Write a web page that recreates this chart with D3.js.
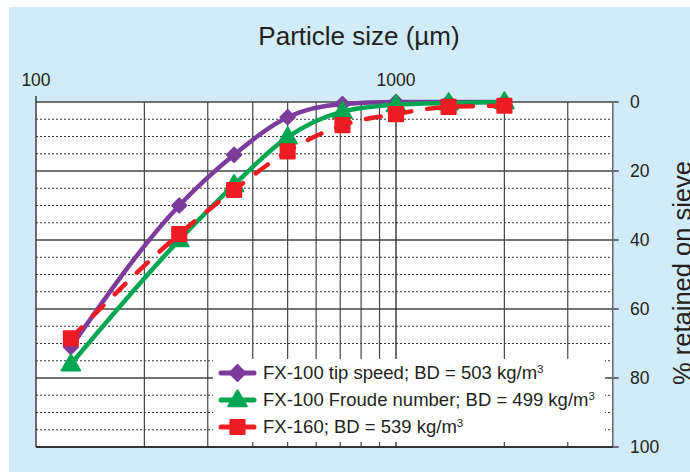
<!DOCTYPE html>
<html>
<head>
<meta charset="utf-8">
<script src="https://cdn.jsdelivr.net/npm/d3@7"></script>
<style>
  body { margin: 0; background: #fff; }
  svg text { font-family: "Liberation Sans", Arial, sans-serif; fill: #231f20; }
</style>
</head>
<body>
<script>
// sieve sizes (um) and % retained on each sieve
var sizes = [125, 250, 355, 500, 710, 1000, 1400, 2000];
var tipSpeed = [71, 30, 15.3, 4.4, 0.6, 0, 0, 0];
var froude = [76, 40, 24, 10.2, 2.8, 0.8, 0.3, 0];
var fx160 = [68.5, 38.3, 25.5, 14.3, 6.7, 3.5, 1.4, 1.1];

var seriesNames = ["FX-100 tip speed; BD = 503 kg/m", "FX-100 Froude number; BD = 499 kg/m", "FX-160; BD = 539 kg/m"];
var xTickValues = [100, 1000];
var xGridValues = [200, 300, 400, 500, 600, 700, 800, 900, 2000, 3000];
var yTickValues = [0, 20, 40, 60, 80, 100];
var yMinorValues = [5, 10, 15, 25, 30, 35, 45, 50, 55, 65, 70, 75, 85, 90, 95];

var width = 690,
    height = 472;

var svg = d3.select("body").append("svg")
    .attr("width", width)
    .attr("height", height);

svg.append("rect")
    .attr("x", 9).attr("y", 7)
    .attr("width", 681).attr("height", 465)
    .attr("fill", "#d1ecf8");

var x = d3.scaleLog().domain([100, 4000]).range([36, 36 + 360 * Math.log10(40)]);
var y = d3.scaleLinear().domain([0, 100]).range([102, 447]);

var pLeft = x.range()[0], pRight = x.range()[1], pTop = y(0), pBottom = y(100);

svg.append("rect")
    .attr("x", pLeft).attr("y", pTop)
    .attr("width", pRight - pLeft).attr("height", pBottom - pTop)
    .attr("fill", "#fff");

// minor dotted lines
svg.selectAll(".minor").data(yMinorValues).enter().append("line")
    .attr("x1", pLeft).attr("x2", pRight)
    .attr("y1", function(d) { return y(d); })
    .attr("y2", function(d) { return y(d); })
    .attr("stroke", "#333")
    .attr("stroke-width", 1)
    .attr("stroke-dasharray", "2,2");

// major horizontal lines + ticks on right
svg.selectAll(".major").data(yTickValues).enter().append("line")
    .attr("x1", pLeft).attr("x2", pRight + 6)
    .attr("y1", function(d) { return y(d); })
    .attr("y2", function(d) { return y(d); })
    .attr("stroke", "#444")
    .attr("stroke-width", 1.3);

// vertical grid
svg.selectAll(".vgrid").data(xGridValues).enter().append("line")
    .attr("x1", function(d) { return x(d); })
    .attr("x2", function(d) { return x(d); })
    .attr("y1", pTop).attr("y2", pBottom)
    .attr("stroke", "#444")
    .attr("stroke-width", 1.2);

// top axis ticks at 100 and 1000
svg.selectAll(".xtick").data(xTickValues).enter().append("line")
    .attr("x1", function(d) { return x(d); })
    .attr("x2", function(d) { return x(d); })
    .attr("y1", pTop - 6).attr("y2", pBottom)
    .attr("stroke", "#222")
    .attr("stroke-width", 1.3);

svg.append("line")
    .attr("x1", pRight).attr("x2", pRight)
    .attr("y1", pTop).attr("y2", pBottom)
    .attr("stroke", "#666").attr("stroke-width", 1.5);
svg.append("line")
    .attr("x1", pLeft).attr("x2", pRight)
    .attr("y1", pBottom).attr("y2", pBottom)
    .attr("stroke", "#222").attr("stroke-width", 1.5);

svg.selectAll(".xlabel").data(xTickValues).enter().append("text")
    .attr("x", function(d) { return x(d); })
    .attr("y", 86)
    .attr("text-anchor", "middle")
    .style("font-size", "17.5px")
    .text(function(d) { return d; });

svg.selectAll(".ylabel").data(yTickValues).enter().append("text")
    .attr("x", 630)
    .attr("y", function(d) { return y(d); })
    .attr("dy", "0.36em")
    .style("font-size", "17.5px")
    .text(function(d) { return d; });

svg.append("text")
    .attr("x", 359).attr("y", 45)
    .attr("text-anchor", "middle")
    .style("font-size", "26px")
    .text("Particle size (\u00b5m)");

// the reference clips this label at the right edge
svg.append("text")
    .attr("transform", "translate(691,273) rotate(-90)")
    .attr("text-anchor", "middle")
    .style("font-size", "25.5px")
    .text("% retained on sieve");

// series
var colors = ["#7b3c9b", "#00a651", "#ed1c24"];
var shapes = [d3.symbolDiamond2, d3.symbolTriangle, d3.symbolSquare];
var shapeSizes = [130, 150, 200];
var dashes = [null, null, "15,16"];
var allValues = [tipSpeed, froude, fx160];

var line = d3.line()
    .x(function(d, i) { return x(sizes[i]); })
    .y(function(d) { return y(d); })
    .curve(d3.curveMonotoneX);

for (var s = 0; s < allValues.length; s++) {
    svg.append("path")
        .attr("d", line(allValues[s]))
        .attr("fill", "none")
        .attr("stroke", colors[s])
        .attr("stroke-width", 4.5)
        .attr("stroke-linecap", "round")
        .attr("stroke-dasharray", dashes[s]);

    svg.selectAll(".m" + s).data(allValues[s]).enter().append("path")
        .attr("d", d3.symbol().type(shapes[s]).size(shapeSizes[s]))
        .attr("transform", function(d, i) {
            return "translate(" + x(sizes[i]) + "," + (y(d) + (s == 1 ? 1 : 0)) + ")";
        })
        .attr("fill", colors[s])
        .attr("stroke", colors[s])
        .attr("stroke-width", 2)
        .attr("stroke-linejoin", "round");
}

// legend
svg.append("rect")
    .attr("x", 213).attr("y", 359)
    .attr("width", 392).attr("height", 83)
    .attr("fill", "#fff");

var legend = svg.selectAll(".legend").data(seriesNames).enter().append("g")
    .attr("transform", function(d, i) { return "translate(0," + (379 + i * 27) + ")"; });

legend.append("line")
    .attr("x1", 221).attr("x2", 254)
    .attr("y1", -6).attr("y2", -6)
    .attr("stroke", function(d, i) { return colors[i]; })
    .attr("stroke-width", 5)
    .attr("stroke-linecap", "round");

legend.append("path")
    .attr("d", function(d, i) { return d3.symbol().type(shapes[i]).size(i == 0 ? 160 : shapeSizes[i])(); })
    .attr("transform", function(d, i) { return "translate(237.5," + (i == 1 ? -5 : -6) + ")"; })
    .attr("fill", function(d, i) { return colors[i]; })
    .attr("stroke", function(d, i) { return colors[i]; })
    .attr("stroke-width", 2)
    .attr("stroke-linejoin", "round");

var lt = legend.append("text")
    .attr("x", 263).attr("y", 0)
    .style("font-size", "18.5px");
lt.append("tspan").text(function(d) { return d; });
lt.append("tspan")
    .attr("dy", -6)
    .style("font-size", "11.5px")
    .text("3");
</script>
</body>
</html>
